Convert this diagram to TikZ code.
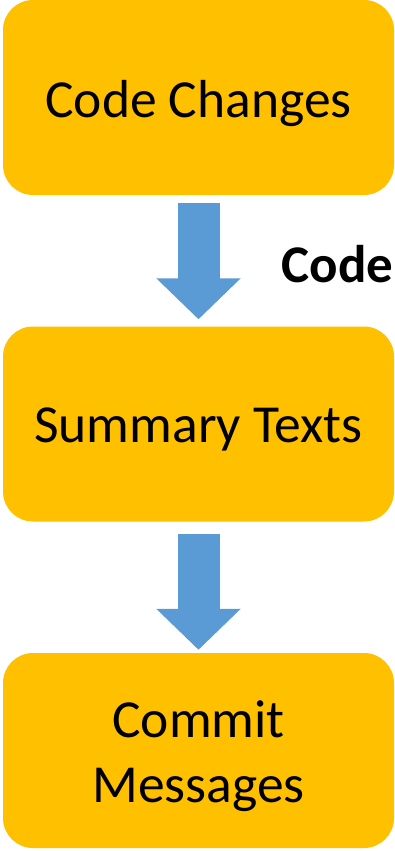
\documentclass[tikz,border=0pt]{standalone}
\usepackage{fontspec}
\setmainfont{Carlito}
\usetikzlibrary{arrows.meta,calc}

\definecolor{boxfill}{HTML}{FFC000}
\definecolor{arrowblue}{HTML}{5B9BD5}

\tikzset{
  stagebox/.style={fill=boxfill, draw=none, rounded corners=30pt,
    minimum width=391pt, minimum height=195pt, inner sep=0pt},
  stagetext/.style={font=\fontsize{53.5pt}{64pt}\selectfont, inner sep=0pt,
    align=center},
  blockarrow/.style={draw=arrowblue, line width=42pt,
    -{Triangle[width=82pt,length=41pt,fill=arrowblue]}},
  arrowlabel/.style={font=\fontsize{53pt}{64pt}\selectfont\bfseries, inner sep=0pt}
}

\begin{document}
\begin{tikzpicture}
  \useasboundingbox (0,0) rectangle (395pt,-851pt);

  % the three stages
  \node[stagebox] (changes) at (198.5pt,-97.5pt) {};
  \node[stagebox] (summary) at (198.5pt,-424pt) {};
  \node[stagebox] (commit)  at (198.5pt,-750.5pt) {};

  % stage captions, placed on their baselines
  \node[stagetext, anchor=base] (tchanges) at ($(changes.center)+(0,-19.5pt)$) {Code Changes};
  \node[stagetext, anchor=base] (tsummary) at ($(summary.center)+(0,-18pt)$) {Summary Texts};
  \node[stagetext, anchor=base] (tcommit) at ($(commit.center)+(0,13.5pt)$) {Commit};
  \node[stagetext, anchor=base] (tmessages) at ($(commit.center)+(0,-51.5pt)$) {Messages};

  % flow between the stages
  \draw[blockarrow] ($(changes.south)+(0,-8pt)$) -- ($(summary.north)+(0,7pt)$);
  \draw[blockarrow] ($(summary.south)+(0,-12pt)$) -- ($(commit.north)+(0,3pt)$);

  % label beside the first arrow
  \node[arrowlabel, anchor=base west] (lcode) at (281.5pt,-282pt) {Code};
\end{tikzpicture}
\end{document}
